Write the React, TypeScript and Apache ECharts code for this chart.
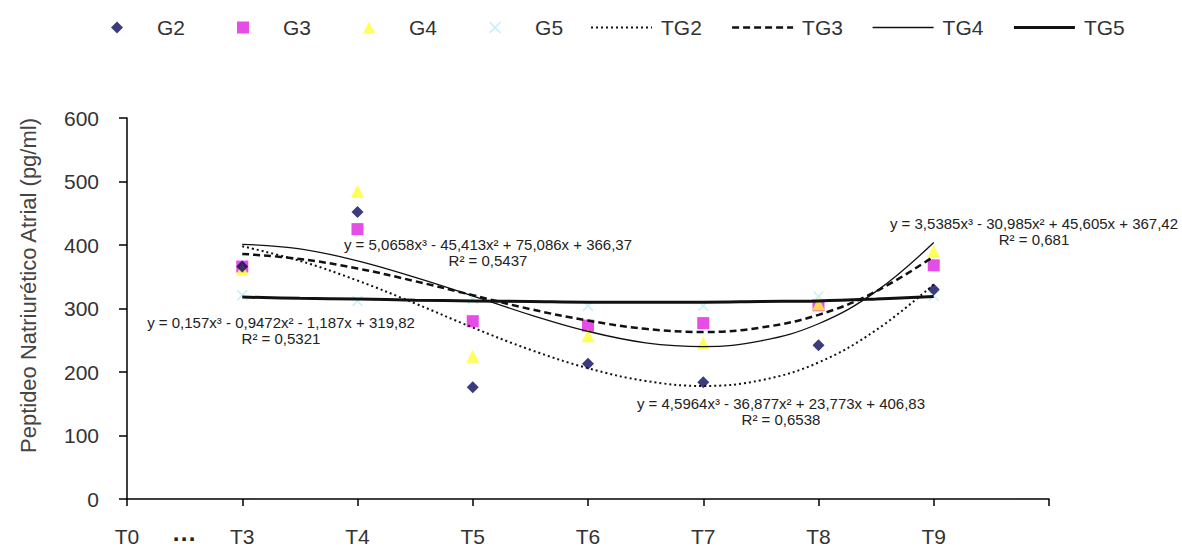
import React, { useEffect, useRef } from "react";
import * as echarts from "echarts";

// Axis categories (half steps so that "..." sits between T0 and T3 without a tick)
const xLabels = ["T0", "...", "T3", "", "T4", "", "T5", "", "T6", "", "T7", "", "T8", "", "T9", "", ""];
const pointTimes = ["T3", "T4", "T5", "T6", "T7", "T8", "T9"];

// Observed group means (pg/ml)
const g2 = [366, 452, 176, 213, 184, 242, 330];
const g3 = [366, 425, 280, 273, 277, 305, 368];
const g4 = [362, 485, 225, 257, 246, 307, 390];
const g5 = [321, 312, 315, 304, 304, 319, 320];

// Trend curves read at every half step from T3 to T9
const trendIdx = [2, 3, 4, 5, 6, 7, 8, 9, 10, 11, 12, 13, 14];
const tg2 = [398, 375, 344, 308, 270, 235, 206, 186, 178, 187, 215, 266, 338];
const tg3 = [386, 378, 363, 343, 321, 299, 281, 268, 263, 270, 290, 327, 382];
const tg4 = [401, 394, 375, 349, 320, 290, 264, 246, 240, 249, 276, 327, 404];
const tg5 = [318, 316, 315, 313, 312, 311, 310, 310, 310, 311, 312, 315, 319];

const yTicks = [0, 100, 200, 300, 400, 500, 600];

const equations = [
  { eq: "y = 0,157x³ - 0,9472x² - 1,187x + 319,82", r2: "R² = 0,5321", cx: 281, cy: 322 },
  { eq: "y = 5,0658x³ - 45,413x² + 75,086x + 366,37", r2: "R² = 0,5437", cx: 488, cy: 244 },
  { eq: "y = 4,5964x³ - 36,877x² + 23,773x + 406,83", r2: "R² = 0,6538", cx: 781, cy: 403 },
  { eq: "y = 3,5385x³ - 30,985x² + 45,605x + 367,42", r2: "R² = 0,681", cx: 1034, cy: 223 },
];

const crossPath =
  "path://M1,0 L5,4 L9,0 L10,1 L6,5 L10,9 L9,10 L5,6 L1,10 L0,9 L4,5 L0,1 Z";

export default function App() {
  const ref = useRef<HTMLDivElement>(null);

  useEffect(() => {
    if (!ref.current) return;
    const chart = echarts.init(ref.current, undefined, { renderer: "svg" });
    const pts = (vals: number[]) =>
      vals.map((v, i) => [xLabels.indexOf(pointTimes[i]), v]);
    const trend = (vals: number[]) => vals.map((v, i) => [trendIdx[i], v]);
    const font = "Arial, 'Liberation Sans', sans-serif";

    const graphics: any[] = [];
    equations.forEach((e) => {
      graphics.push({
        type: "text",
        x: e.cx,
        y: e.cy,
        style: { text: e.eq, font: `15px ${font}`, fill: "#222", align: "center", verticalAlign: "middle" },
        z: 100,
      });
      graphics.push({
        type: "text",
        x: e.cx,
        y: e.cy + 16,
        style: { text: e.r2, font: `15px ${font}`, fill: "#222", align: "center", verticalAlign: "middle" },
        z: 100,
      });
    });

    const hiddenSym = { color: "rgba(0,0,0,0)", opacity: 0, borderWidth: 0 };

    chart.setOption({
      animation: false,
      backgroundColor: "#ffffff",
      textStyle: { fontFamily: font },
      legend: [
        {
          left: 111,
          top: 17,
          itemWidth: 12,
          itemHeight: 12,
          itemGap: 52,
          padding: 0,
          textStyle: { fontSize: 21, color: "#333", padding: [0, 0, 0, 29] },
          data: [
            { name: "G2", icon: "diamond" },
            { name: "G3", icon: "rect" },
            { name: "G4", icon: "triangle" },
            { name: "G5", icon: crossPath },
          ],
        },
        {
          left: 590,
          top: 17,
          itemWidth: 61,
          itemHeight: 12,
          itemGap: 29,
          padding: 0,
          textStyle: { fontSize: 21, color: "#333", padding: [0, 0, 0, 4] },
          data: [
            { name: "TG2", itemStyle: hiddenSym, lineStyle: { width: 2, type: [2, 3], color: "#111" } },
            { name: "TG3", itemStyle: hiddenSym, lineStyle: { width: 2.5, type: [7, 4], color: "#111" } },
            { name: "TG4", itemStyle: hiddenSym, lineStyle: { width: 1.3, type: "solid", color: "#111" } },
            { name: "TG5", itemStyle: hiddenSym, lineStyle: { width: 3, type: "solid", color: "#111" } },
          ],
        },
      ],
      grid: { left: 127, right: 133, top: 118, bottom: 47, containLabel: false },
      xAxis: {
        type: "category",
        data: xLabels,
        boundaryGap: false,
        axisLine: { lineStyle: { color: "#000", width: 1.5 } },
        axisTick: {
          length: 7,
          lineStyle: { color: "#000", width: 1.5 },
          interval: (index: number) => index % 2 === 0,
        },
        axisLabel: {
          interval: 0,
          margin: 27,
          fontSize: 21,
          color: "#333",
          formatter: (v: string) => (v === "..." ? "{d|···}" : v),
          rich: { d: { fontSize: 24, fontWeight: "bold", color: "#222" } },
        },
        splitLine: { show: false },
      },
      yAxis: {
        type: "value",
        min: 0,
        max: 600,
        interval: 100,
        name: "Peptideo Natriurético Atrial (pg/ml)",
        nameLocation: "middle",
        nameGap: 88,
        nameTextStyle: { fontSize: 22, color: "#444", padding: [0, 0, 0, 46] },
        axisLine: { show: true, lineStyle: { color: "#000", width: 1.5 } },
        axisTick: { show: true, length: 8, lineStyle: { color: "#000", width: 1.5 } },
        axisLabel: {
          fontSize: 21,
          color: "#333",
          margin: 28,
          formatter: (v: number) => (yTicks.includes(v) ? String(v) : ""),
        },
        splitLine: { show: false },
      },
      series: [
        { name: "G2", type: "scatter", symbol: "diamond", symbolSize: 12, itemStyle: { color: "#0a0a5e" }, data: pts(g2), z: 3 },
        { name: "G3", type: "scatter", symbol: "rect", symbolSize: 12, itemStyle: { color: "#e020e0" }, data: pts(g3), z: 2 },
        { name: "G4", type: "scatter", symbol: "triangle", symbolSize: 13, itemStyle: { color: "#ffff33" }, data: pts(g4), z: 2 },
        { name: "G5", type: "scatter", symbol: crossPath, symbolSize: 11, itemStyle: { color: "#b8eef6" }, data: pts(g5), z: 2 },
        { name: "TG2", type: "line", smooth: 0.4, symbol: "none", data: trend(tg2), lineStyle: { color: "#111", width: 2, type: [2, 3] }, itemStyle: { color: "#111" }, z: 4 },
        { name: "TG3", type: "line", smooth: 0.4, symbol: "none", data: trend(tg3), lineStyle: { color: "#111", width: 2.5, type: [7, 4] }, itemStyle: { color: "#111" }, z: 4 },
        { name: "TG4", type: "line", smooth: 0.4, symbol: "none", data: trend(tg4), lineStyle: { color: "#111", width: 1.3 }, itemStyle: { color: "#111" }, z: 4 },
        { name: "TG5", type: "line", smooth: 0.4, symbol: "none", data: trend(tg5), lineStyle: { color: "#111", width: 3 }, itemStyle: { color: "#111" }, z: 4 },
      ],
      graphic: graphics,
    });
    return () => chart.dispose();
  }, []);

  return (
    <div
      ref={ref}
      style={{ position: "absolute", left: 0, top: 0, width: 1182, height: 550, background: "#fff" }}
    />
  );
}
